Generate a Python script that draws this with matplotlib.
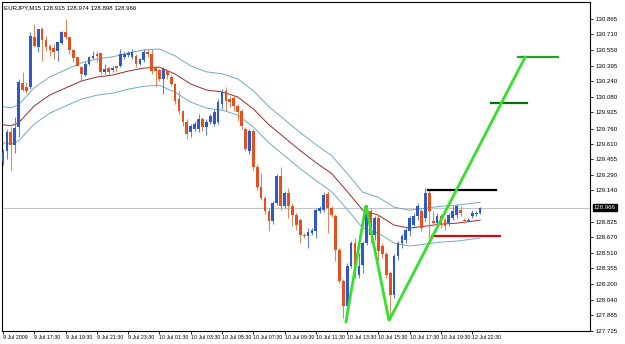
import numpy as np
import matplotlib
matplotlib.use("Agg")
import matplotlib.pyplot as plt
from matplotlib.transforms import blended_transform_factory

plt.rcParams['font.family'] = ['Liberation Sans', 'DejaVu Sans']

# EURJPY M15 candles
opens = [129.44, 129.54, 129.73, 129.60, 129.78, 130.22, 130.18, 130.18, 130.68, 130.58,
         130.76, 130.65, 130.59, 130.57, 130.54, 130.62, 130.73, 130.68, 130.55, 130.48,
         130.38, 130.30, 130.41, 130.47, 130.51, 130.52, 130.33, 130.37, 130.35, 130.39,
         130.39, 130.48, 130.50, 130.48, 130.49, 130.41, 130.45, 130.53, 130.51, 130.38,
         130.35, 130.26, 130.34, 130.28, 130.21, 130.06, 129.94, 129.83, 129.73, 129.76,
         129.76, 129.86, 129.78, 129.83, 129.81, 129.83, 130.01, 130.14, 130.06, 130.07,
         129.99, 129.94, 129.76, 129.54, 129.74, 129.38, 129.17, 129.06, 128.93, 128.83,
         129.01, 129.28, 128.98, 129.11, 128.98, 128.89, 128.84, 128.69, 128.68, 128.71,
         128.73, 128.93, 128.94, 129.10, 128.96, 128.88, 128.54, 128.23, 127.98, 128.38,
         128.61, 128.29, 128.39, 128.61, 128.93, 128.69, 128.86, 128.58, 128.50, 128.31,
         128.09, 128.48, 128.61, 128.64, 128.73, 128.79, 128.88, 128.93, 128.86, 129.11,
         128.83, 128.81, 128.88, 128.84, 128.81, 128.86, 128.89, 128.94, 128.84, 128.83,
         128.88, 128.90, 128.915]
highs = [129.56, 129.76, 129.78, 129.88, 130.26, 130.33, 130.23, 130.73, 130.81, 130.76,
         130.78, 130.69, 130.61, 130.61, 130.63, 130.74, 130.86, 130.68, 130.56, 130.48,
         130.39, 130.43, 130.49, 130.54, 130.54, 130.53, 130.41, 130.38, 130.39, 130.39,
         130.56, 130.53, 130.54, 130.56, 130.51, 130.47, 130.56, 130.56, 130.56, 130.39,
         130.36, 130.38, 130.36, 130.30, 130.22, 130.14, 129.95, 129.86, 129.81, 129.84,
         129.91, 129.88, 129.86, 129.91, 129.96, 130.06, 130.16, 130.18, 130.09, 130.10,
         130.01, 129.96, 129.78, 129.76, 129.76, 129.41, 129.31, 129.08, 128.96, 129.03,
         129.30, 129.38, 129.13, 129.16, 129.01, 128.91, 128.86, 128.71, 128.76, 128.76,
         128.96, 128.98, 129.12, 129.13, 128.98, 128.90, 128.56, 128.25, 128.41, 128.63,
         128.66, 128.51, 128.63, 128.99, 128.96, 128.88, 128.89, 128.61, 128.52, 128.33,
         128.50, 128.63, 128.70, 128.76, 128.88, 128.91, 129.01, 128.96, 129.16, 129.14,
         128.93, 128.91, 128.90, 128.86, 128.91, 128.98, 129.00, 128.98, 128.86, 128.86,
         128.94, 128.93, 128.974]
lows = [129.40, 129.46, 129.34, 129.52, 129.68, 130.14, 130.12, 130.16, 130.58, 130.53,
        130.44, 130.54, 130.49, 130.46, 130.44, 130.61, 130.66, 130.51, 130.43, 130.39,
        130.25, 130.29, 130.40, 130.46, 130.43, 130.31, 130.31, 130.31, 130.33, 130.34,
        130.38, 130.46, 130.48, 130.46, 130.38, 130.40, 130.43, 130.48, 130.31, 130.18,
        130.24, 130.11, 130.26, 130.19, 130.01, 129.91, 129.79, 129.66, 129.68, 129.74,
        129.73, 129.74, 129.70, 129.81, 129.79, 129.81, 129.96, 129.94, 129.98, 129.94,
        129.84, 129.76, 129.54, 129.51, 129.34, 129.14, 129.04, 128.90, 128.73, 128.80,
        128.99, 128.94, 128.96, 128.86, 128.78, 128.74, 128.61, 128.66, 128.56, 128.69,
        128.66, 128.91, 128.92, 128.71, 128.87, 128.43, 128.21, 127.86, 127.88, 128.36,
        128.26, 128.26, 128.31, 128.59, 128.61, 128.64, 128.44, 128.46, 128.26, 127.84,
        128.06, 128.44, 128.56, 128.61, 128.68, 128.76, 128.84, 128.73, 128.83, 128.66,
        128.78, 128.76, 128.76, 128.74, 128.78, 128.84, 128.86, 128.88, 128.81, 128.82,
        128.86, 128.88, 128.898]
closes = [129.53, 129.73, 129.60, 129.77, 130.23, 130.15, 130.14, 130.69, 130.59, 130.76,
          130.65, 130.58, 130.55, 130.53, 130.63, 130.73, 130.68, 130.55, 130.47, 130.39,
          130.31, 130.41, 130.48, 130.49, 130.49, 130.33, 130.36, 130.33, 130.37, 130.37,
          130.51, 130.51, 130.52, 130.53, 130.41, 130.46, 130.53, 130.51, 130.34, 130.34,
          130.26, 130.36, 130.30, 130.21, 130.04, 129.94, 129.83, 129.71, 129.79, 129.81,
          129.86, 129.78, 129.83, 129.89, 129.93, 130.03, 130.13, 130.04, 130.03, 129.99,
          129.93, 129.79, 129.56, 129.74, 129.38, 129.17, 129.06, 128.93, 128.83, 129.01,
          129.28, 128.98, 129.11, 128.98, 128.89, 128.79, 128.69, 128.68, 128.72, 128.74,
          128.94, 128.96, 129.09, 128.96, 128.89, 128.54, 128.23, 127.98, 128.38, 128.61,
          128.29, 128.38, 128.61, 128.93, 128.69, 128.86, 128.53, 128.50, 128.29, 128.09,
          128.48, 128.61, 128.68, 128.74, 128.86, 128.88, 128.98, 128.76, 129.11, 128.93,
          128.81, 128.88, 128.79, 128.78, 128.89, 128.93, 128.98, 128.91, 128.83, 128.84,
          128.91, 128.91, 128.966]

# moving average (red line), read at some bars; blue lines are envelopes around it
ma_bars = [0, 2, 4, 8, 12, 16, 20, 24, 28, 32, 36, 40, 44, 48, 52, 56, 60, 64, 68, 72,
           76, 80, 84, 88, 92, 96, 100, 104, 108, 112, 116, 120, 122]
ma_vals = [129.80, 129.79, 129.82, 129.99, 130.10, 130.17, 130.24, 130.28, 130.30, 130.34,
           130.37, 130.38, 130.31, 130.21, 130.15, 130.13, 130.08, 129.96, 129.80, 129.67,
           129.54, 129.42, 129.31, 129.13, 128.94, 128.89, 128.79, 128.76, 128.78, 128.80,
           128.81, 128.83, 128.84]
env_dev = 0.0014

# hand drawn lines on the chart (bar position, price)
zigzag_bars = [87.7, 92.8, 98.7, 133.5]
zigzag_prices = [127.82, 128.99, 127.83, 130.48]
black_level = (108.7, 126.1, 129.14)
red_level = (109.7, 127.1, 128.68)
green_levels = [(131.7, 141.9, 130.48, "#24a024"), (124.8, 134.0, 130.02, "#0b6e0b")]

last_price = 128.966
header = "EURJPY,M15 128.915 128.974 128.898 128.966"

xtick_labels = ["9 Jul 2009", "9 Jul 17:30", "9 Jul 19:30", "9 Jul 21:30", "9 Jul 23:30",
                "10 Jul 01:30", "10 Jul 03:30", "10 Jul 05:30", "10 Jul 07:30", "10 Jul 09:30",
                "10 Jul 11:30", "10 Jul 13:30", "10 Jul 15:30", "10 Jul 17:30", "10 Jul 19:30",
                "12 Jul 22:30"]
ytick_vals = [130.865, 130.710, 130.550, 130.395, 130.240, 130.080, 129.925, 129.760,
              129.610, 129.455, 129.290, 129.140, 128.825, 128.670, 128.510, 128.355,
              128.200, 128.040, 127.885, 127.725]

o = np.array(opens)
h = np.array(highs)
l = np.array(lows)
c = np.array(closes)
x = np.arange(len(o))
up = c >= o

fig = plt.figure(figsize=(6.25, 3.44), dpi=100)
fig.patch.set_facecolor("white")
ax = fig.add_axes([2 / 625, 13 / 344, 588 / 625, 329 / 344])

# envelopes + ma
ma = np.array(ma_vals)
ax.plot(ma_bars, ma * (1 + env_dev), color="#6fa9c9", lw=0.7, zorder=2)
ax.plot(ma_bars, ma * (1 - env_dev), color="#6fa9c9", lw=0.7, zorder=2)
ax.plot(ma_bars, ma, color="#9a2b2b", lw=0.7, zorder=2)

ax.axhline(last_price, color="#c4c4c4", lw=0.8, zorder=1)

# candles
ax.vlines(x[up], l[up], h[up], color="#5f82d6", lw=0.8, zorder=3)
ax.vlines(x[~up], l[~up], h[~up], color="#d48c62", lw=0.8, zorder=3)
body = np.maximum(np.abs(c - o), 0.008)
ax.bar(x[up], body[up], bottom=np.minimum(o, c)[up], width=0.7, color="#2f58c8", zorder=4)
ax.bar(x[~up], body[~up], bottom=np.minimum(o, c)[~up], width=0.7, color="#e5501e", zorder=4)

# drawn objects
ax.plot([black_level[0], black_level[1]], [black_level[2]] * 2, color="black", lw=1.6, zorder=5)
ax.plot([red_level[0], red_level[1]], [red_level[2]] * 2, color="#c81010", lw=1.6, zorder=5)
for x0, x1, p, col in green_levels:
    ax.plot([x0, x1], [p, p], color=col, lw=1.6, zorder=5)
ax.plot(zigzag_bars, zigzag_prices, color="#33e02a", lw=2.0, zorder=6, solid_joinstyle="miter")

ax.set_xlim(-0.26, 150.1)
ax.set_ylim(127.725, 131.035)

ax.set_xticks(np.arange(len(xtick_labels)) * 8)
ax.set_xticklabels(xtick_labels)
for t in ax.get_xticklabels():
    t.set_ha("left")
ax.tick_params(axis="x", length=2, width=0.6, pad=1, labelsize=3.8)

ax.yaxis.tick_right()
ax.set_yticks(ytick_vals)
ax.set_yticklabels(["%.3f" % v for v in ytick_vals])
ax.tick_params(axis="y", length=2, width=0.6, pad=2, labelsize=4.4)

for s in ax.spines.values():
    s.set_linewidth(0.8)
    s.set_color("black")

trans = blended_transform_factory(ax.transAxes, ax.transData)
ax.text(1 + 4 / 588, last_price, "%.3f" % last_price, transform=trans, ha="left", va="center",
        color="white", fontsize=4.4, zorder=10,
        bbox=dict(facecolor="black", edgecolor="black", pad=0.6), clip_on=False)

ax.text(0.004, 0.99, header, transform=ax.transAxes, ha="left", va="top", fontsize=4.4)

fig.savefig("out.png", dpi=100)
